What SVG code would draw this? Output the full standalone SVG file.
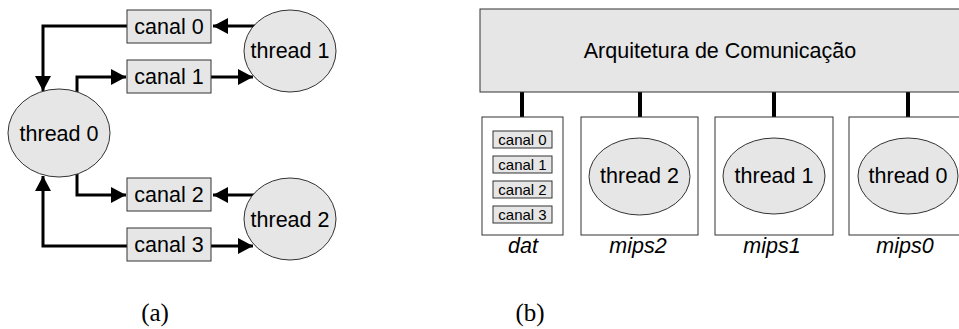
<svg xmlns="http://www.w3.org/2000/svg" width="959" height="329" viewBox="0 0 959 329">
  <style>
    .box { fill: #e6e6e6; stroke: #333; stroke-width: 1; }
    .frame { fill: #ffffff; stroke: #333; stroke-width: 1; }
    .txt { font-family: "Liberation Sans", Arial, sans-serif; font-size: 21.5px; fill: #000; text-anchor: middle; }
    .small { font-size: 15px; }
    .ital { font-style: italic; }
    .cap { font-family: "Liberation Serif", "Times New Roman", serif; font-size: 25px; fill: #000; text-anchor: middle; }
    .wire { fill: none; stroke: #000; stroke-width: 3; }
    .bus { fill: none; stroke: #000; stroke-width: 4; }
  </style>
  <defs>
    <marker id="arrow" markerUnits="userSpaceOnUse" markerWidth="16" markerHeight="16" viewBox="0 0 16 16" refX="15" refY="8" orient="auto">
      <path d="M0,0 L15,8 L0,16 Z" fill="#000"/>
    </marker>
  </defs>

  <!-- (a) thread / channel graph -->
  <g id="connectors-a">
    <path class="wire" d="M255,26 H213" marker-end="url(#arrow)"/>
    <path class="wire" d="M127,26 H43 V91" marker-end="url(#arrow)"/>
    <path class="wire" d="M77,93 V77 H126" marker-end="url(#arrow)"/>
    <path class="wire" d="M211,77 H253" marker-end="url(#arrow)"/>
    <path class="wire" d="M255,195 H213" marker-end="url(#arrow)"/>
    <path class="wire" d="M77,174 V195 H126" marker-end="url(#arrow)"/>
    <path class="wire" d="M127,246 H43 V176" marker-end="url(#arrow)"/>
    <path class="wire" d="M211,246 H253" marker-end="url(#arrow)"/>
  </g>

  <g id="a-canal0">
    <rect class="box" x="127" y="10" width="84" height="33"/>
    <text class="txt" x="169" y="34">canal 0</text>
  </g>
  <g id="a-canal1">
    <rect class="box" x="127" y="60" width="84" height="33"/>
    <text class="txt" x="169" y="84">canal 1</text>
  </g>
  <g id="a-canal2">
    <rect class="box" x="127" y="178" width="84" height="33"/>
    <text class="txt" x="169" y="202">canal 2</text>
  </g>
  <g id="a-canal3">
    <rect class="box" x="127" y="228" width="84" height="33"/>
    <text class="txt" x="169" y="252">canal 3</text>
  </g>
  <g id="a-thread0">
    <ellipse class="box" cx="59" cy="133" rx="51" ry="44"/>
    <text class="txt" x="59" y="141">thread 0</text>
  </g>
  <g id="a-thread1">
    <ellipse class="box" cx="290" cy="51" rx="46" ry="41"/>
    <text class="txt" x="290" y="58">thread 1</text>
  </g>
  <g id="a-thread2">
    <ellipse class="box" cx="290" cy="219" rx="46" ry="41"/>
    <text class="txt" x="290" y="227">thread 2</text>
  </g>
  <text class="cap" x="155" y="321">(a)</text>

  <!-- (b) mapping onto the platform -->
  <g id="connectors-b">
    <line class="bus" x1="522" y1="92" x2="522" y2="117"/>
    <line class="bus" x1="640" y1="92" x2="640" y2="117"/>
    <line class="bus" x1="774" y1="92" x2="774" y2="117"/>
    <line class="bus" x1="908" y1="92" x2="908" y2="117"/>
  </g>

  <g id="b-arquitetura">
    <rect class="box" x="480" y="9" width="486" height="83"/>
    <text class="txt" x="720" y="58">Arquitetura de Comunicação</text>
  </g>

  <g id="b-dat">
    <rect class="frame" x="482" y="117" width="81" height="118"/>
    <rect class="box" x="493" y="131" width="59" height="17"/>
    <text class="txt small" x="522.5" y="145">canal 0</text>
    <rect class="box" x="493" y="156" width="59" height="17"/>
    <text class="txt small" x="522.5" y="170">canal 1</text>
    <rect class="box" x="493" y="181" width="59" height="17"/>
    <text class="txt small" x="522.5" y="195">canal 2</text>
    <rect class="box" x="493" y="206" width="59" height="17"/>
    <text class="txt small" x="522.5" y="220">canal 3</text>
    <text class="txt ital" x="523" y="253">dat</text>
  </g>
  <g id="b-mips2">
    <rect class="frame" x="581" y="117" width="117" height="118"/>
    <ellipse class="box" cx="639.5" cy="176.5" rx="50.5" ry="38.5"/>
    <text class="txt" x="639.5" y="183">thread 2</text>
    <text class="txt ital" x="638" y="253">mips2</text>
  </g>
  <g id="b-mips1">
    <rect class="frame" x="715" y="117" width="118" height="118"/>
    <ellipse class="box" cx="774" cy="176" rx="51" ry="38"/>
    <text class="txt" x="774" y="183">thread 1</text>
    <text class="txt ital" x="772" y="253">mips1</text>
  </g>
  <g id="b-mips0">
    <rect class="frame" x="849" y="117" width="118" height="118"/>
    <ellipse class="box" cx="908" cy="176" rx="50" ry="38"/>
    <text class="txt" x="908" y="183">thread 0</text>
    <text class="txt ital" x="905" y="253">mips0</text>
  </g>
  <text class="cap" x="530" y="321">(b)</text>
</svg>
